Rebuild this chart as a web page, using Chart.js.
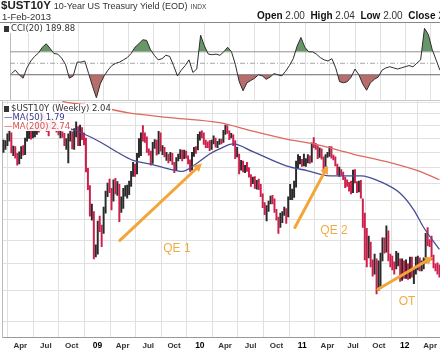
<!DOCTYPE html>
<html><head><meta charset="utf-8">
<script src="https://cdn.jsdelivr.net/npm/chart.js@4.4.1/dist/chart.umd.min.js"></script>
<style>
html,body{margin:0;padding:0;background:#fff;width:440px;height:358px;overflow:hidden;position:relative;font-family:'Liberation Sans',Arial,sans-serif}
.abs{position:absolute;white-space:nowrap;z-index:5}
.leg{position:absolute;white-space:nowrap;z-index:5;font:8.5px 'DejaVu Sans',sans-serif;line-height:9px;background:rgba(255,255,255,0.92);padding:0 1px}
.ico{display:inline-block;width:5px;height:6px;background:#333;margin-right:2px;vertical-align:-1px}
#cciBox{position:absolute;left:0;top:22px}
#mainBox{position:absolute;left:0;top:100px}
.hl{position:absolute;left:0;width:440px;height:1px;z-index:4}
</style></head>
<body>
<div class="abs" style="left:1px;top:-1px;font-weight:bold;font-size:11.5px;color:#222">$UST10Y <span style="font-weight:normal;font-size:9px;color:#333">10-Year US Treasury Yield (EOD)</span> <span style="font-weight:normal;font-size:6.5px;color:#444">INDX</span></div>
<div class="abs" style="left:2px;top:11px;font-size:9.5px;color:#333">1-Feb-2013</div>
<div class="abs" style="left:257px;top:10px;font-size:10px;color:#333"><b style="color:#111">Open</b> 2.00 &nbsp;<b style="color:#111">High</b> 2.04 &nbsp;<b style="color:#111">Low</b> 2.00 &nbsp;<b style="color:#111">Close</b> 2.04</div>
<div class="hl" style="top:22px;background:#888"></div>
<div class="hl" style="top:100px;background:#c8c8c8"></div>
<div id="cciBox"><canvas id="cci" width="470" height="78"></canvas></div>
<div id="mainBox"><canvas id="main" width="470" height="254"></canvas></div>
<div class="leg" style="left:3px;top:24px;color:#333"><span class="ico"></span>CCI(20) 189.88</div>
<div class="leg" style="left:3px;top:104px;color:#333"><span class="ico"></span>$UST10Y (Weekly) 2.04</div>
<div class="leg" style="left:3px;top:113px;color:#3a3a8c">—MA(50) 1.79</div>
<div class="leg" style="left:3px;top:122px;color:#d9534f">—MA(200) 2.74</div>
<script>
// ---- data (week index 0 = week ending 1-Feb-2008) ----
const weekClose = [
3.59,3.64,3.77,3.80,3.51,3.54,3.44,3.33,3.45,3.55,3.47,3.72,3.86,3.87,3.77,3.85,3.85,4.06,3.91,4.26,4.18,3.98,3.97,3.96,4.10,4.11,3.95,3.94,3.84,3.86,3.81,3.66,3.72,3.78,3.85,3.59,3.88,3.93,3.68,3.95,3.80,3.74,3.20,2.92,2.56,2.57,2.13,2.13,
2.40,2.39,2.32,2.62,2.84,2.99,2.89,2.78,3.01,2.87,2.89,2.63,2.76,2.90,2.92,2.95,2.99,3.16,3.29,3.14,3.45,3.46,3.83,3.79,3.78,3.54,3.50,3.30,3.64,3.67,3.48,3.85,3.56,3.56,3.44,3.44,3.36,3.46,3.31,3.21,3.38,3.42,3.49,3.38,3.50,3.42,3.34,3.20,3.48,3.55,3.54,3.80,
3.85,3.83,3.68,3.61,3.60,3.56,3.69,3.78,3.61,3.68,3.71,3.69,3.86,3.95,3.88,3.77,3.81,3.66,3.43,3.44,3.20,3.31,3.20,3.24,3.22,3.11,2.98,3.06,2.95,3.00,2.94,2.82,2.68,2.61,2.65,2.71,2.79,2.75,2.61,2.52,2.39,2.56,2.56,2.60,2.53,2.79,2.87,2.87,3.01,3.32,3.33,3.39,3.30,
3.32,3.33,3.41,3.33,3.64,3.63,3.58,3.42,3.49,3.40,3.27,3.44,3.45,3.58,3.41,3.40,3.29,3.15,3.17,3.15,3.07,2.99,2.97,2.94,2.87,3.18,3.03,2.91,2.96,2.80,2.56,2.25,2.06,2.19,1.99,1.92,2.07,1.83,1.92,2.08,2.25,2.23,2.33,2.06,2.04,2.01,1.97,2.04,2.06,1.85,2.03,1.88,
1.96,1.87,2.03,1.89,1.93,1.99,2.01,1.98,1.98,2.03,2.30,2.24,2.21,2.06,1.98,1.96,1.94,1.88];
const weekHigh = [
3.72,3.71,3.84,3.92,3.86,3.61,3.60,3.48,3.51,3.60,3.62,3.76,3.89,3.93,3.92,3.92,3.93,4.10,4.11,4.27,4.28,4.20,4.06,4.05,4.15,4.17,4.12,4.03,3.97,3.91,3.88,3.85,3.75,3.84,3.92,3.88,3.94,4.08,3.98,4.01,3.96,3.86,3.76,3.23,2.96,2.70,2.60,2.20,
2.48,2.54,2.43,2.66,2.88,3.00,3.06,2.92,3.05,3.07,3.02,2.98,2.80,2.92,2.96,2.97,3.03,3.18,3.33,3.30,3.48,3.75,3.86,4.00,3.86,3.78,3.56,3.52,3.68,3.73,3.72,3.89,3.86,3.62,3.59,3.50,3.47,3.50,3.48,3.33,3.41,3.47,3.55,3.54,3.54,3.52,3.44,3.37,3.50,3.59,3.60,3.83,
3.88,3.90,3.86,3.72,3.69,3.71,3.72,3.80,3.76,3.70,3.74,3.74,3.91,4.01,4.00,3.90,3.85,3.82,3.71,3.59,3.47,3.36,3.35,3.28,3.33,3.24,3.13,3.09,3.10,3.04,3.06,2.98,2.84,2.72,2.68,2.74,2.81,2.82,2.77,2.63,2.53,2.58,2.60,2.66,2.64,2.80,2.98,2.91,3.03,3.35,3.46,3.43,3.38,
3.47,3.39,3.46,3.44,3.67,3.77,3.66,3.62,3.58,3.56,3.42,3.46,3.50,3.60,3.60,3.45,3.42,3.30,3.25,3.21,3.17,3.09,3.05,3.01,3.03,3.20,3.21,3.02,3.03,3.04,2.77,2.58,2.39,2.30,2.23,2.04,2.10,2.05,2.03,2.11,2.28,2.28,2.42,2.36,2.10,2.08,2.02,2.13,2.11,2.05,2.05,2.03,
2.04,2.00,2.07,2.07,1.95,2.07,2.08,2.06,2.03,2.06,2.33,2.40,2.26,2.30,2.09,2.00,2.01,1.99];
const weekLow = [
3.50,3.55,3.62,3.70,3.49,3.44,3.40,3.28,3.30,3.39,3.45,3.46,3.70,3.75,3.74,3.76,3.78,3.83,3.87,3.90,4.12,3.96,3.88,3.80,3.93,4.02,3.93,3.87,3.82,3.76,3.77,3.62,3.55,3.32,3.70,3.56,3.55,3.78,3.62,3.62,3.73,3.63,3.17,2.90,2.54,2.49,2.05,2.07,
2.10,2.35,2.18,2.33,2.58,2.80,2.86,2.62,2.74,2.84,2.82,2.47,2.59,2.64,2.81,2.78,2.83,2.95,3.10,3.10,3.14,3.41,3.44,3.70,3.68,3.50,3.45,3.28,3.31,3.57,3.45,3.47,3.52,3.46,3.42,3.36,3.32,3.35,3.29,3.16,3.19,3.35,3.39,3.35,3.39,3.40,3.30,3.18,3.20,3.43,3.48,3.54,
3.72,3.76,3.64,3.58,3.58,3.53,3.55,3.65,3.59,3.58,3.64,3.65,3.68,3.83,3.85,3.73,3.76,3.62,3.39,3.42,3.14,3.20,3.17,3.16,3.18,3.09,2.95,2.99,2.92,2.91,2.90,2.80,2.65,2.56,2.48,2.60,2.70,2.70,2.59,2.49,2.33,2.40,2.46,2.55,2.45,2.53,2.76,2.76,2.79,2.94,3.24,3.30,3.26,
3.27,3.26,3.32,3.31,3.33,3.58,3.55,3.39,3.41,3.38,3.17,3.26,3.41,3.43,3.40,3.37,3.27,3.13,3.10,3.12,3.05,2.93,2.95,2.88,2.84,2.86,3.00,2.86,2.87,2.78,2.40,2.04,1.97,2.06,1.97,1.88,1.90,1.72,1.75,1.77,2.03,2.11,2.12,2.03,1.97,1.94,1.90,1.95,1.98,1.83,1.84,1.86,
1.86,1.85,1.86,1.87,1.81,1.90,1.94,1.93,1.93,1.95,2.01,2.19,2.18,2.04,1.96,1.93,1.90,1.87];

const ma50Week  = [28,32,39,49,58,66,75,84,91,98,105,110,117,127,144,155,166,182,192,202,209,214,222];
const ma50Value = [4.00,3.96,3.87,3.69,3.50,3.36,3.30,3.22,3.18,3.30,3.47,3.56,3.65,3.51,3.27,3.19,3.11,3.11,3.02,2.85,2.62,2.40,2.15];
const ma200Week  = [30,33,45,63,86,110,127,144,158,178,195,212,222];
const ma200Value = [4.52,4.49,4.43,4.27,4.16,4.06,3.89,3.74,3.65,3.47,3.34,3.18,3.05];

// CCI(20), sampled every second week starting at week 0
const cciValue = [
-90,-60,-100,-130,-40,20,60,90,140,170,
130,85,80,45,-10,-130,-110,10,10,20,
-90,-200,-300,-180,-110,-60,-20,0,10,30,
50,85,140,170,205,200,120,70,30,40,
70,60,-20,-110,-60,-20,30,-80,-50,245,
150,80,75,80,70,100,140,100,-10,-160,
-240,-170,-150,-130,-100,-110,-140,-120,-90,-100,
-110,-70,-20,40,150,225,140,100,100,80,
50,30,20,40,-40,-160,-170,-160,-120,-50,
-100,-180,-235,-170,-140,-120,-60,-40,-30,-40,
-50,-40,-30,-20,-30,0,30,305,250,120,
30,-60];
const cciLevels = [100, 0, -100];

const tickLabels = ['Apr','Jul','Oct','09','Apr','Jul','Oct','10','Apr','Jul','Oct','11','Apr','Jul','Oct','12','Apr'];
const tickDates  = ['2008-04-01','2008-07-01','2008-10-01','2009-01-01','2009-04-01','2009-07-01','2009-10-01','2010-01-01','2010-04-01','2010-07-01','2010-10-01','2011-01-01','2011-04-01','2011-07-01','2011-10-01','2012-01-01','2012-04-01'];
const gridValues = [1.5,1.75,2.0,2.25,2.5,2.75,3.0,3.25,3.5,3.75,4.0,4.25,4.5];

const arrowLabels    = ['QE 1','QE 2','OT'];
const arrowFromWeek  = [59.3,148.4,190.7];
const arrowFromValue = [2.25,2.40,1.76];
const arrowToWeek    = [101,165.2,218.7];
const arrowToValue   = [3.31,3.27,2.07];
const labelWeek      = [88.3,168.3,205.5];
const labelValue     = [2.16,2.36,1.65];

// ---- build ----
const startMs = Date.UTC(2008,1,1);
function weekOf(s){const p=s.split('-').map(Number);return (Date.UTC(p[0],p[1]-1,p[2])-startMs)/(7*864e5);}
const tickWeeks = tickDates.map(weekOf);
const xMin = -0.76, xMax = -0.76 + 468/1.9636;

const bars = weekClose.map((c,i)=>({x:i,y:[weekLow[i],weekHigh[i]]}));
const barColors = weekClose.map((c,i)=> (i===0 || c>=weekClose[i-1]) ? '#2a2a2a' : '#cf1f4c');
const ma50 = ma50Week.map((w,i)=>({x:w,y:ma50Value[i]}));
const ma200 = ma200Week.map((w,i)=>({x:w,y:ma200Value[i]}));
const cciPts = cciValue.map((v,i)=>({x:i*2,y:v}));

const xScaleBase = () => ({
  type:'linear', min:xMin, max:xMax, offset:false,
  afterBuildTicks: s => { s.ticks = tickWeeks.map(v=>({value:v})); },
  grid:{color:'#e0e0e0', lineWidth:1, drawTicks:false},
  border:{display:false}
});

const cciLevelSets = cciLevels.map(lv => ({
  type:'line', data:[{x:xMin,y:lv},{x:xMax,y:lv}], pointRadius:0,
  borderColor: lv===0 ? '#a8a8a8' : (lv>0 ? '#9a9a9a' : '#6f6f6f'),
  borderWidth:1, borderDash: lv===0 ? [5,2,1,2] : [], fill:false, order:2
}));

new Chart(document.getElementById('cci'), {
  type:'line',
  data:{datasets:[
    {data:cciPts, borderColor:'#2d2d2d', borderWidth:1, pointRadius:0, fill:false, order:0},
    {data:cciPts, borderWidth:0, borderColor:'rgba(0,0,0,0)', pointRadius:0, order:3,
     fill:{target:{value:100}, above:'rgba(95,145,95,0.95)', below:'rgba(0,0,0,0)'}},
    {data:cciPts, borderWidth:0, borderColor:'rgba(0,0,0,0)', pointRadius:0, order:3,
     fill:{target:{value:-100}, above:'rgba(0,0,0,0)', below:'rgba(180,100,100,0.95)'}},
    ...cciLevelSets
  ]},
  options:{
    animation:false, responsive:false, events:[],
    layout:{padding:{left:2,right:0,top:0,bottom:0}},
    plugins:{legend:{display:false}, tooltip:{enabled:false}},
    scales:{
      x:Object.assign(xScaleBase(), {ticks:{display:false}}),
      y:{min:-320,max:360, ticks:{display:false}, grid:{display:false}, border:{display:true,color:'#bbb'}}
    }
  }
});

const arrowPlugin = {
  id:'arrows',
  afterDatasetsDraw(chart){
    const {ctx} = chart, x = chart.scales.x, y = chart.scales.y;
    ctx.save();
    const col = '#f3a53a';
    ctx.strokeStyle = col; ctx.fillStyle = col; ctx.lineWidth = 3; ctx.lineCap = 'round';
    for (let k=0;k<arrowLabels.length;k++){
      const x1=x.getPixelForValue(arrowFromWeek[k]), y1=y.getPixelForValue(arrowFromValue[k]);
      const x2=x.getPixelForValue(arrowToWeek[k]),   y2=y.getPixelForValue(arrowToValue[k]);
      const a=Math.atan2(y2-y1,x2-x1), hl=9;
      ctx.beginPath(); ctx.moveTo(x1,y1); ctx.lineTo(x2-Math.cos(a)*hl*0.7, y2-Math.sin(a)*hl*0.7); ctx.stroke();
      ctx.beginPath(); ctx.moveTo(x2,y2);
      ctx.lineTo(x2-hl*Math.cos(a-0.5), y2-hl*Math.sin(a-0.5));
      ctx.lineTo(x2-hl*Math.cos(a+0.5), y2-hl*Math.sin(a+0.5));
      ctx.closePath(); ctx.fill();
      ctx.font = '12px "Liberation Sans", Arial, sans-serif';
      ctx.textAlign='center'; ctx.textBaseline='middle';
      ctx.fillStyle = '#f0ab45';
      ctx.fillText(arrowLabels[k], x.getPixelForValue(labelWeek[k]), y.getPixelForValue(labelValue[k]));
      ctx.fillStyle = col;
    }
    ctx.restore();
  }
};

new Chart(document.getElementById('main'), {
  type:'bar',
  data:{datasets:[
    {type:'line', data:ma200, borderColor:'#de6a5e', borderWidth:1.3, pointRadius:0, fill:false, cubicInterpolationMode:'monotone', order:1},
    {type:'line', data:ma50, borderColor:'#474d96', borderWidth:1.3, pointRadius:0, fill:false, cubicInterpolationMode:'monotone', order:1},
    {type:'bar', data:bars, backgroundColor:barColors, borderWidth:0, barThickness:1.3, grouped:false, minBarLength:1, order:2}
  ]},
  options:{
    animation:false, responsive:false, events:[],
    layout:{padding:{left:2,right:0,top:0,bottom:0}},
    plugins:{legend:{display:false}, tooltip:{enabled:false}},
    scales:{
      x:Object.assign(xScaleBase(), {
        border:{display:true,color:'#999'},
        ticks:{display:true, autoSkip:false, maxRotation:0, padding:3,
          callback:(v,i)=>tickLabels[i],
          color:(c)=> /^\d/.test(tickLabels[c.index]) ? '#000' : '#333',
          font:(c)=>({family:'"Liberation Sans", Arial, sans-serif', size: /^\d/.test(tickLabels[c.index]) ? 8.5 : 8, weight:'bold'})}
      }),
      y:{type:'logarithmic', min:1.38, max:4.55,
         afterBuildTicks: s => { s.ticks = gridValues.map(v=>({value:v})); },
         ticks:{display:false}, grid:{color:'#e0e0e0', drawTicks:false},
         border:{display:true,color:'#bbb'}}
    }
  },
  plugins:[arrowPlugin]
});
</script>
</body></html>
